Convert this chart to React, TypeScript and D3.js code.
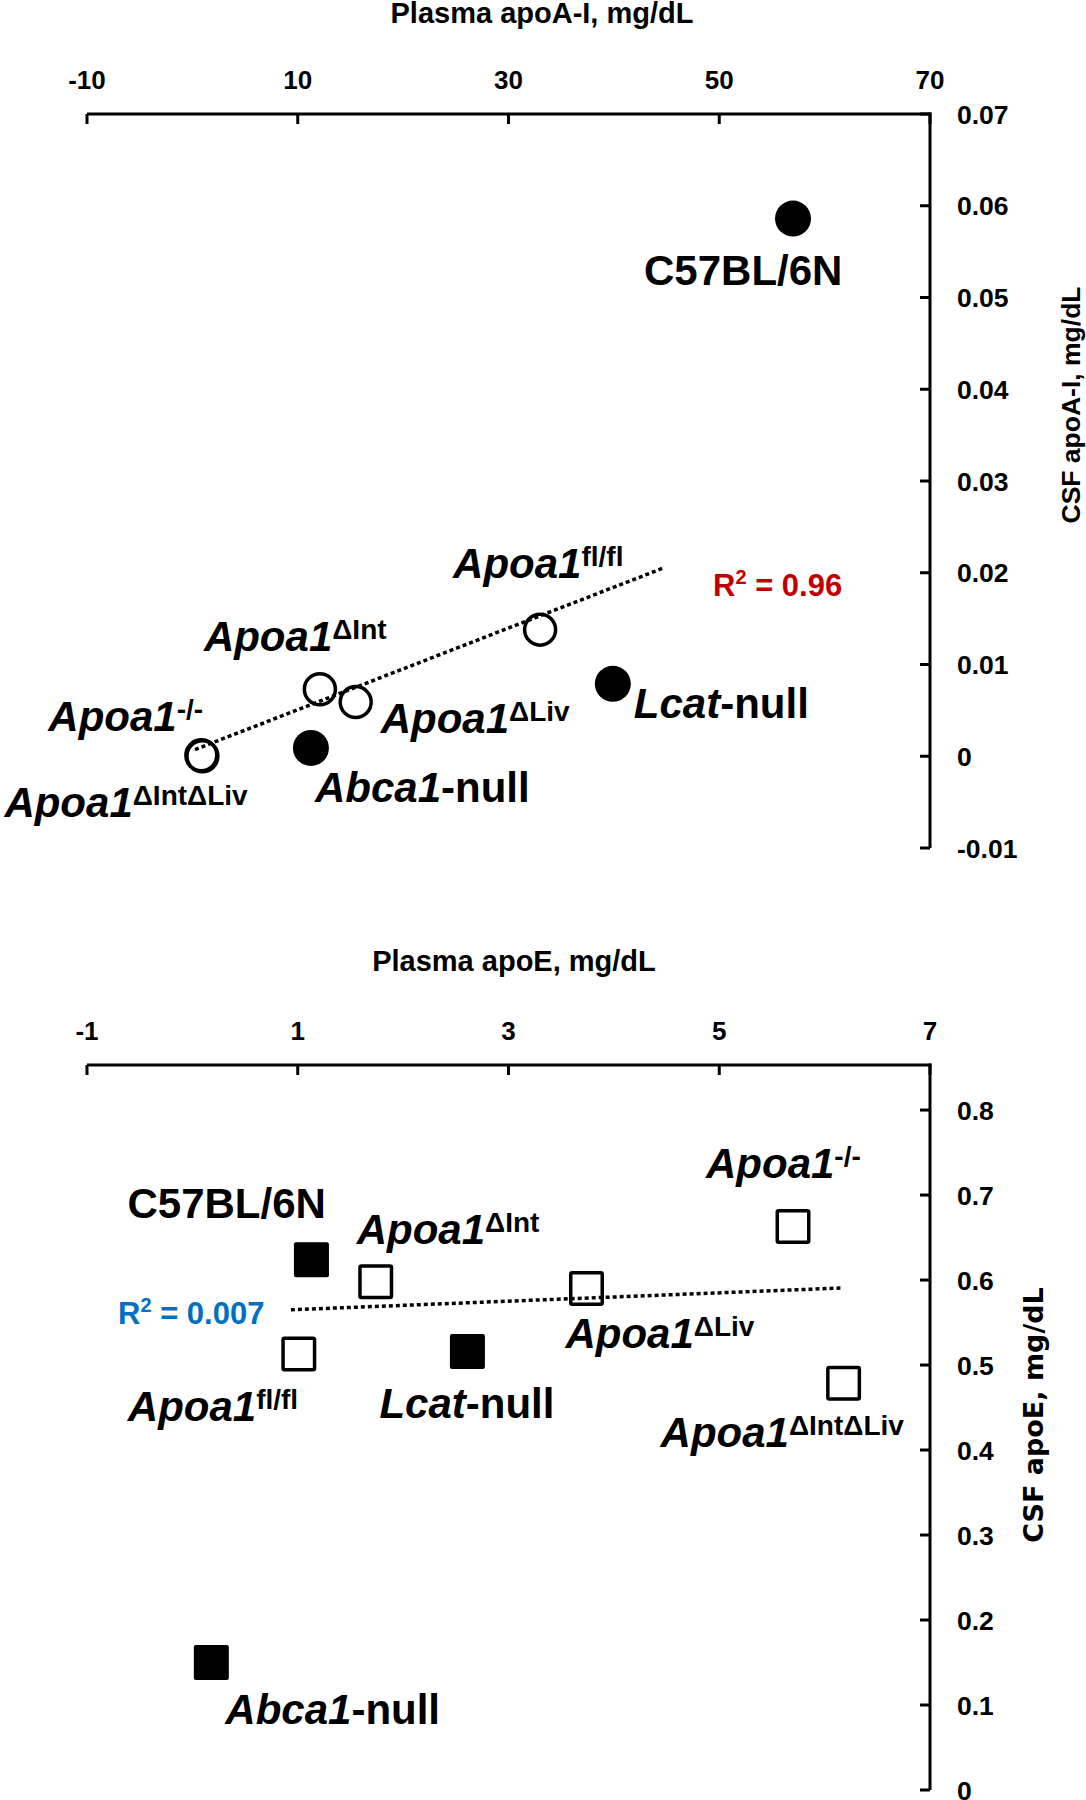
import React from "react";
import * as d3 from "d3";

// ---------- data ----------
const strainsTop = ["C57BL/6N", "Apoa1fl/fl", "Apoa1ΔInt", "Apoa1ΔLiv", "Apoa1-/-", "Apoa1ΔIntΔLiv", "Abca1-null", "Lcat-null"];
const plasmaApoAI = [57, 33, 12.1, 15.5, 0.85, 0.95, 11.25, 39.9];
const csfApoAI = [0.0586, 0.0138, 0.0073, 0.0059, 0.0001, 0.0, 0.0009, 0.0079];
const filledTop = [true, false, false, false, false, false, true, true];
const trendTopX = [0.25, 44.84];
const trendTopY = [0.00073, 0.02058];
const r2Top = "0.96";
const xTicksTop = [-10, 10, 30, 50, 70];
const yTicksTop = [-0.01, 0, 0.01, 0.02, 0.03, 0.04, 0.05, 0.06, 0.07];

const strainsBot = ["C57BL/6N", "Apoa1ΔInt", "Apoa1ΔLiv", "Apoa1-/-", "Apoa1fl/fl", "Lcat-null", "Apoa1ΔIntΔLiv", "Abca1-null"];
const plasmaApoE = [1.13, 1.74, 3.74, 5.7, 1.01, 2.61, 6.18, 0.18];
const csfApoE = [0.624, 0.598, 0.59, 0.663, 0.513, 0.516, 0.4785, 0.15];
const filledBot = [true, false, false, false, false, true, false, true];
const trendBotX = [0.935, 6.15];
const trendBotY = [0.565, 0.5906];
const r2Bot = "0.007";
const xTicksBot = [-1, 1, 3, 5, 7];
const yTicksBot = [0, 0.1, 0.2, 0.3, 0.4, 0.5, 0.6, 0.7, 0.8];

// label parts per strain
const labelParts: Record<string, { it?: string; plain?: string; sup?: string; rest?: string }> = {
  "C57BL/6N": { plain: "C57BL/6N" },
  "Apoa1fl/fl": { it: "Apoa1", sup: "fl/fl" },
  "Apoa1ΔInt": { it: "Apoa1", sup: "ΔInt" },
  "Apoa1ΔLiv": { it: "Apoa1", sup: "ΔLiv" },
  "Apoa1-/-": { it: "Apoa1", sup: "-/-" },
  "Apoa1ΔIntΔLiv": { it: "Apoa1", sup: "ΔIntΔLiv" },
  "Abca1-null": { it: "Abca1", rest: "-null" },
  "Lcat-null": { it: "Lcat", rest: "-null" },
};

// ---------- layout (label offsets from the marker, px) ----------
const offTop: Record<string, [number, number]> = {
  "C57BL/6N": [-149, 66],
  "Apoa1fl/fl": [-87, -52],
  "Apoa1ΔInt": [-116, -38],
  "Apoa1ΔLiv": [25, 31],
  "Apoa1-/-": [-153, -24],
  "Apoa1ΔIntΔLiv": [-198, 61],
  "Abca1-null": [4, 54],
  "Lcat-null": [21, 34],
};
const offBot: Record<string, [number, number]> = {
  "C57BL/6N": [-184, -42],
  "Apoa1ΔInt": [-19, -38],
  "Apoa1ΔLiv": [-21, 59],
  "Apoa1-/-": [-87, -48],
  "Apoa1fl/fl": [-171, 67],
  "Lcat-null": [-88, 67],
  "Apoa1ΔIntΔLiv": [-183, 64],
  "Abca1-null": [14, 61],
};

const FONT = "'Liberation Sans', Arial, Helvetica, sans-serif";
const FONT_WIDE = "'DejaVu Sans', Verdana, sans-serif";

function Label({ name, x, y }: { name: string; x: number; y: number }) {
  const p = labelParts[name];
  return (
    <text x={x} y={y} fontFamily={FONT} fontWeight="bold" fontSize={42} fill="#000">
      {p.plain && <tspan>{p.plain}</tspan>}
      {p.it && <tspan fontStyle="italic">{p.it}</tspan>}
      {p.rest && <tspan>{p.rest}</tspan>}
      {p.sup && (
        <tspan fontSize={28} dy={-12}>
          {p.sup}
        </tspan>
      )}
    </text>
  );
}

function R2({ x, y, value, color }: { x: number; y: number; value: string; color: string }) {
  return (
    <text x={x} y={y} fontFamily={FONT} fontWeight="bold" fontSize={31} fill={color}>
      <tspan>R</tspan>
      <tspan fontSize={20} dy={-12}>2</tspan>
      <tspan dy={12}>{" = " + value}</tspan>
    </text>
  );
}

type PanelProps = {
  xDomain: [number, number];
  yDomain: [number, number];
  top: number;
  bottom: number;
  xTicks: number[];
  yTicks: number[];
  yFmt: (v: number) => string;
  xTitle: string;
  xTitleX: number;
  xTitleY: number;
  yTitle: string;
  yTitleX: number;
  yTitleY: number;
  yTitleFont: string;
  yTitleSize: number;
  strains: string[];
  xs: number[];
  ys: number[];
  filled: boolean[];
  shape: "circle" | "square";
  trendX: number[];
  trendY: number[];
  offsets: Record<string, [number, number]>;
  r2: string;
  r2Color: string;
  r2Pos: [number, number];
};

function Panel(p: PanelProps) {
  const left = 87;
  const right = 930;
  const x = d3.scaleLinear().domain(p.xDomain).range([left, right]);
  const y = d3.scaleLinear().domain(p.yDomain).range([p.bottom, p.top]);
  const axisY = p.top;
  const axisX = right;
  const line = d3
    .line<number>()
    .x((_, i) => x(p.trendX[i]))
    .y((_, i) => y(p.trendY[i]));
  return (
    <g>
      {/* x title */}
      <text x={p.xTitleX} y={p.xTitleY} textAnchor="middle" fontFamily={FONT} fontWeight="bold" fontSize={29}>
        {p.xTitle}
      </text>
      {/* x axis (top) */}
      <line x1={left} x2={axisX + 1.5} y1={axisY} y2={axisY} stroke="#000" strokeWidth={3} />
      {p.xTicks.map((t) => (
        <g key={"xt" + t}>
          <line x1={x(t)} x2={x(t)} y1={axisY} y2={axisY + 10} stroke="#000" strokeWidth={3} />
          <text x={x(t)} y={axisY - 25} textAnchor="middle" fontFamily={FONT} fontWeight="bold" fontSize={26}>
            {t}
          </text>
        </g>
      ))}
      {/* y axis (right) */}
      <line x1={axisX} x2={axisX} y1={axisY - 1.5} y2={p.bottom} stroke="#000" strokeWidth={3} />
      {p.yTicks.map((t) => (
        <g key={"yt" + t}>
          <line x1={axisX - 10} x2={axisX} y1={y(t)} y2={y(t)} stroke="#000" strokeWidth={3} />
          <text x={axisX + 27} y={y(t) + 9.5} fontFamily={FONT} fontWeight="bold" fontSize={26.5}>
            {p.yFmt(t)}
          </text>
        </g>
      ))}
      <text
        transform={`translate(${p.yTitleX},${p.yTitleY}) rotate(-90)`}
        textAnchor="middle"
        fontFamily={p.yTitleFont}
        fontWeight="bold"
        fontSize={p.yTitleSize}
      >
        {p.yTitle}
      </text>
      {/* trend line */}
      <path d={line([0, 1]) || ""} fill="none" stroke="#000" strokeWidth={3.5} strokeDasharray="4 3" />
      {/* markers */}
      {p.strains.map((s, i) => {
        const cx = x(p.xs[i]);
        const cy = y(p.ys[i]);
        const f = p.filled[i];
        return p.shape === "circle" ? (
          <circle
            key={s}
            cx={cx}
            cy={cy}
            r={f ? 18 : 15.5}
            fill={f ? "#000" : "none"}
            stroke="#000"
            strokeWidth={f ? 0 : 3.5}
          />
        ) : f ? (
          <rect key={s} x={cx - 17.5} y={cy - 17.5} width={35} height={35} rx={2} fill="#000" />
        ) : (
          <rect
            key={s}
            x={cx - 15.75}
            y={cy - 15.75}
            width={31.5}
            height={31.5}
            rx={1.5}
            fill="none"
            stroke="#000"
            strokeWidth={3.5}
          />
        );
      })}
      {/* labels */}
      {p.strains.map((s, i) => (
        <Label key={"l" + s} name={s} x={x(p.xs[i]) + p.offsets[s][0]} y={y(p.ys[i]) + p.offsets[s][1]} />
      ))}
      <R2 x={p.r2Pos[0]} y={p.r2Pos[1]} value={p.r2} color={p.r2Color} />
    </g>
  );
}

const fmt = (digits: number) => (v: number) =>
  Math.abs(v) < 1e-9 ? "0" : v.toFixed(digits).replace("\u2212", "-");

export default function App() {
  return (
    <svg
      width={1086}
      height={1800}
      viewBox="0 0 1086 1800"
      style={{ position: "absolute", left: 0, top: 0, background: "#fff" }}
    >
      <rect width={1086} height={1800} fill="#fff" />
      <Panel
        xDomain={[-10, 70]}
        yDomain={[-0.01, 0.07]}
        top={114}
        bottom={848}
        xTicks={xTicksTop}
        yTicks={yTicksTop}
        yFmt={fmt(2)}
        xTitle="Plasma apoA-I, mg/dL"
        xTitleX={542}
        xTitleY={23}
        yTitle="CSF apoA-I, mg/dL"
        yTitleX={1080}
        yTitleY={405}
        yTitleFont={FONT}
        yTitleSize={26.5}
        strains={strainsTop}
        xs={plasmaApoAI}
        ys={csfApoAI}
        filled={filledTop}
        shape="circle"
        trendX={trendTopX}
        trendY={trendTopY}
        offsets={offTop}
        r2={r2Top}
        r2Color="#C00000"
        r2Pos={[713, 596]}
      />
      <Panel
        xDomain={[-1, 7]}
        yDomain={[0, 0.853]}
        top={1065}
        bottom={1790}
        xTicks={xTicksBot}
        yTicks={yTicksBot}
        yFmt={fmt(1)}
        xTitle="Plasma apoE, mg/dL"
        xTitleX={514}
        xTitleY={971}
        yTitle="CSF apoE, mg/dL"
        yTitleX={1043}
        yTitleY={1415}
        yTitleFont={FONT_WIDE}
        yTitleSize={27}
        strains={strainsBot}
        xs={plasmaApoE}
        ys={csfApoE}
        filled={filledBot}
        shape="square"
        trendX={trendBotX}
        trendY={trendBotY}
        offsets={offBot}
        r2={r2Bot}
        r2Color="#0070C0"
        r2Pos={[118, 1324]}
      />
    </svg>
  );
}
